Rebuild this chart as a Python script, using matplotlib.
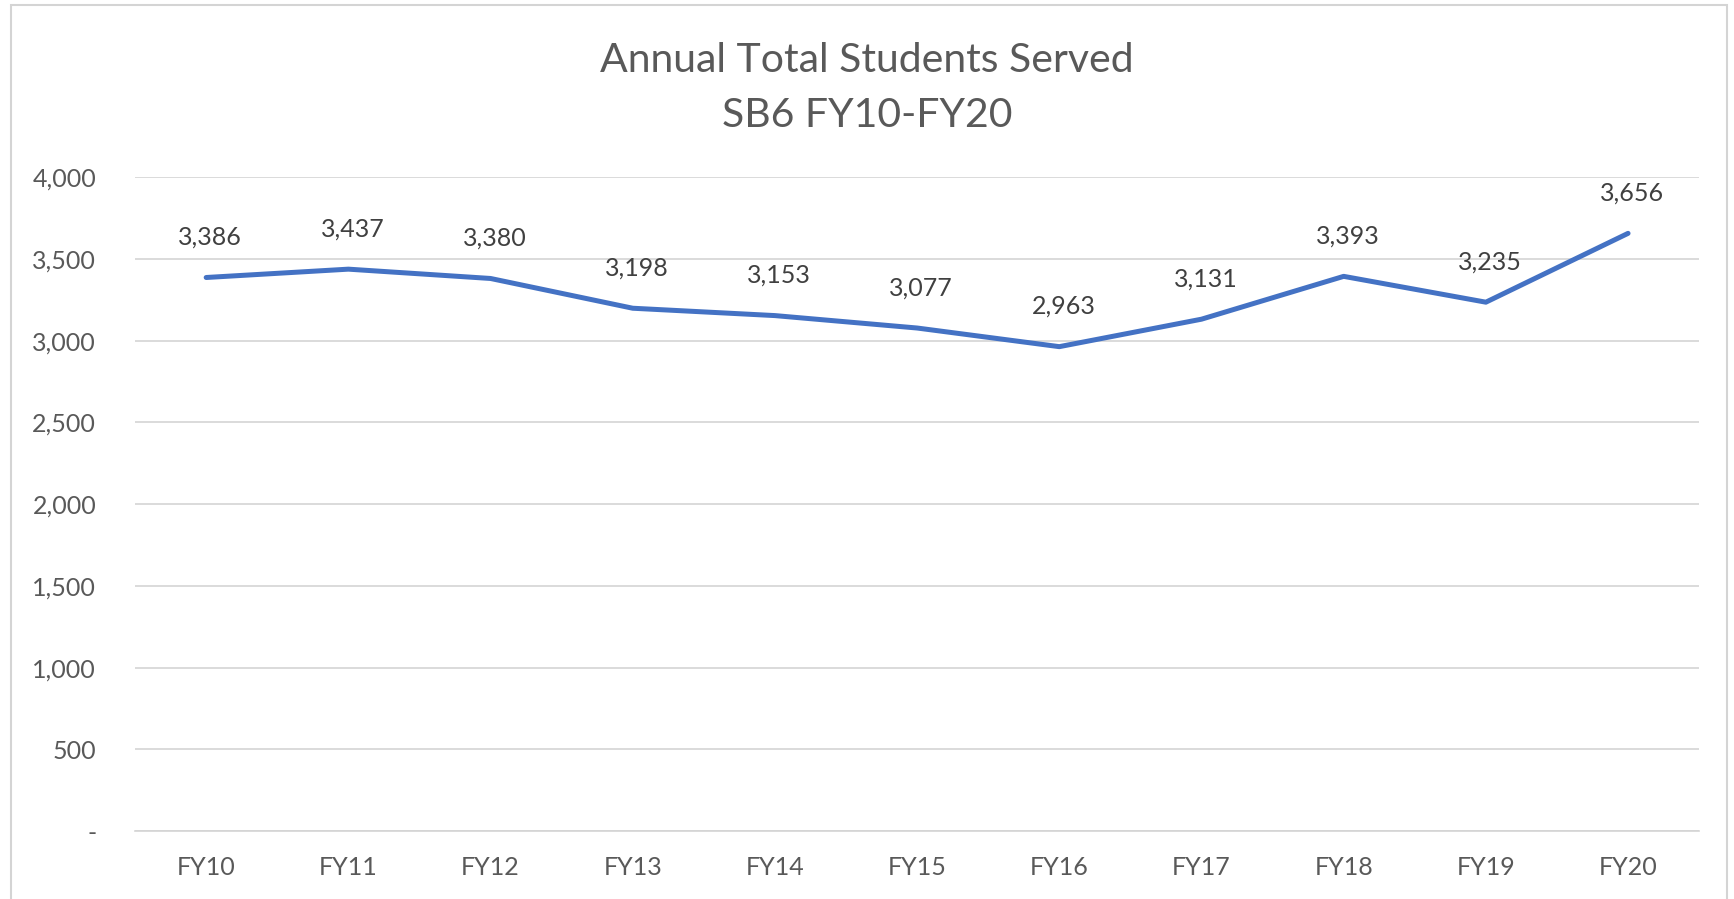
import matplotlib.pyplot as plt
from matplotlib.patches import Rectangle
from matplotlib.ticker import FuncFormatter

years = ['FY10', 'FY11', 'FY12', 'FY13', 'FY14', 'FY15', 'FY16', 'FY17', 'FY18', 'FY19', 'FY20']
students = [3386, 3437, 3380, 3198, 3153, 3077, 2963, 3131, 3393, 3235, 3656]
y_ticks = [0, 500, 1000, 1500, 2000, 2500, 3000, 3500, 4000]

plt.rcParams['font.family'] = ['Lato', 'DejaVu Sans']
text_grey = '#595959'
grid_grey = '#d4d4d4'

fig = plt.figure(figsize=(17.34, 8.99), dpi=100, facecolor='white')
ax = fig.add_axes([0.0779, 0.0755, 0.902, 0.7275])

x = list(range(len(years)))
ax.plot(x, students, color='#4472c4', linewidth=3.6, solid_capstyle='round', zorder=3)

for xi, v in zip(x, students):
    ax.annotate(f'{v:,}', (xi, v), xytext=(3, 29), textcoords='offset points',
                ha='center', va='center', fontsize=18, color='#404040')

ax.set_xlim(-0.5, len(years) - 0.5)
ax.set_ylim(0, 4000)
ax.set_xticks(x)
ax.set_xticklabels(years)
ax.set_yticks(y_ticks)
ax.yaxis.set_major_formatter(FuncFormatter(lambda v, p: '-' if v == 0 else f'{int(v):,}'))
ax.tick_params(axis='both', length=0, labelsize=18, labelcolor=text_grey)
ax.tick_params(axis='x', pad=18)
ax.tick_params(axis='y', pad=28)

ax.grid(axis='y', color=grid_grey, linewidth=1.2)
ax.set_axisbelow(True)
for side in ['top', 'right', 'left']:
    ax.spines[side].set_visible(False)
ax.spines['bottom'].set_color(grid_grey)
ax.spines['bottom'].set_linewidth(1.2)

fig.text(0.5, 0.933, 'Annual Total Students Served', ha='center', va='center',
         fontsize=29.5, color=text_grey)
fig.text(0.5, 0.871, 'SB6 FY10-FY20', ha='center', va='center',
         fontsize=29.5, color=text_grey)

# chart border
fig.patches.append(Rectangle((0.0065, -0.05), 0.9895, 1.044, transform=fig.transFigure,
                             fill=False, edgecolor=grid_grey, linewidth=1.5))

plt.savefig('out.png', dpi=100, facecolor='white')
plt.close()
